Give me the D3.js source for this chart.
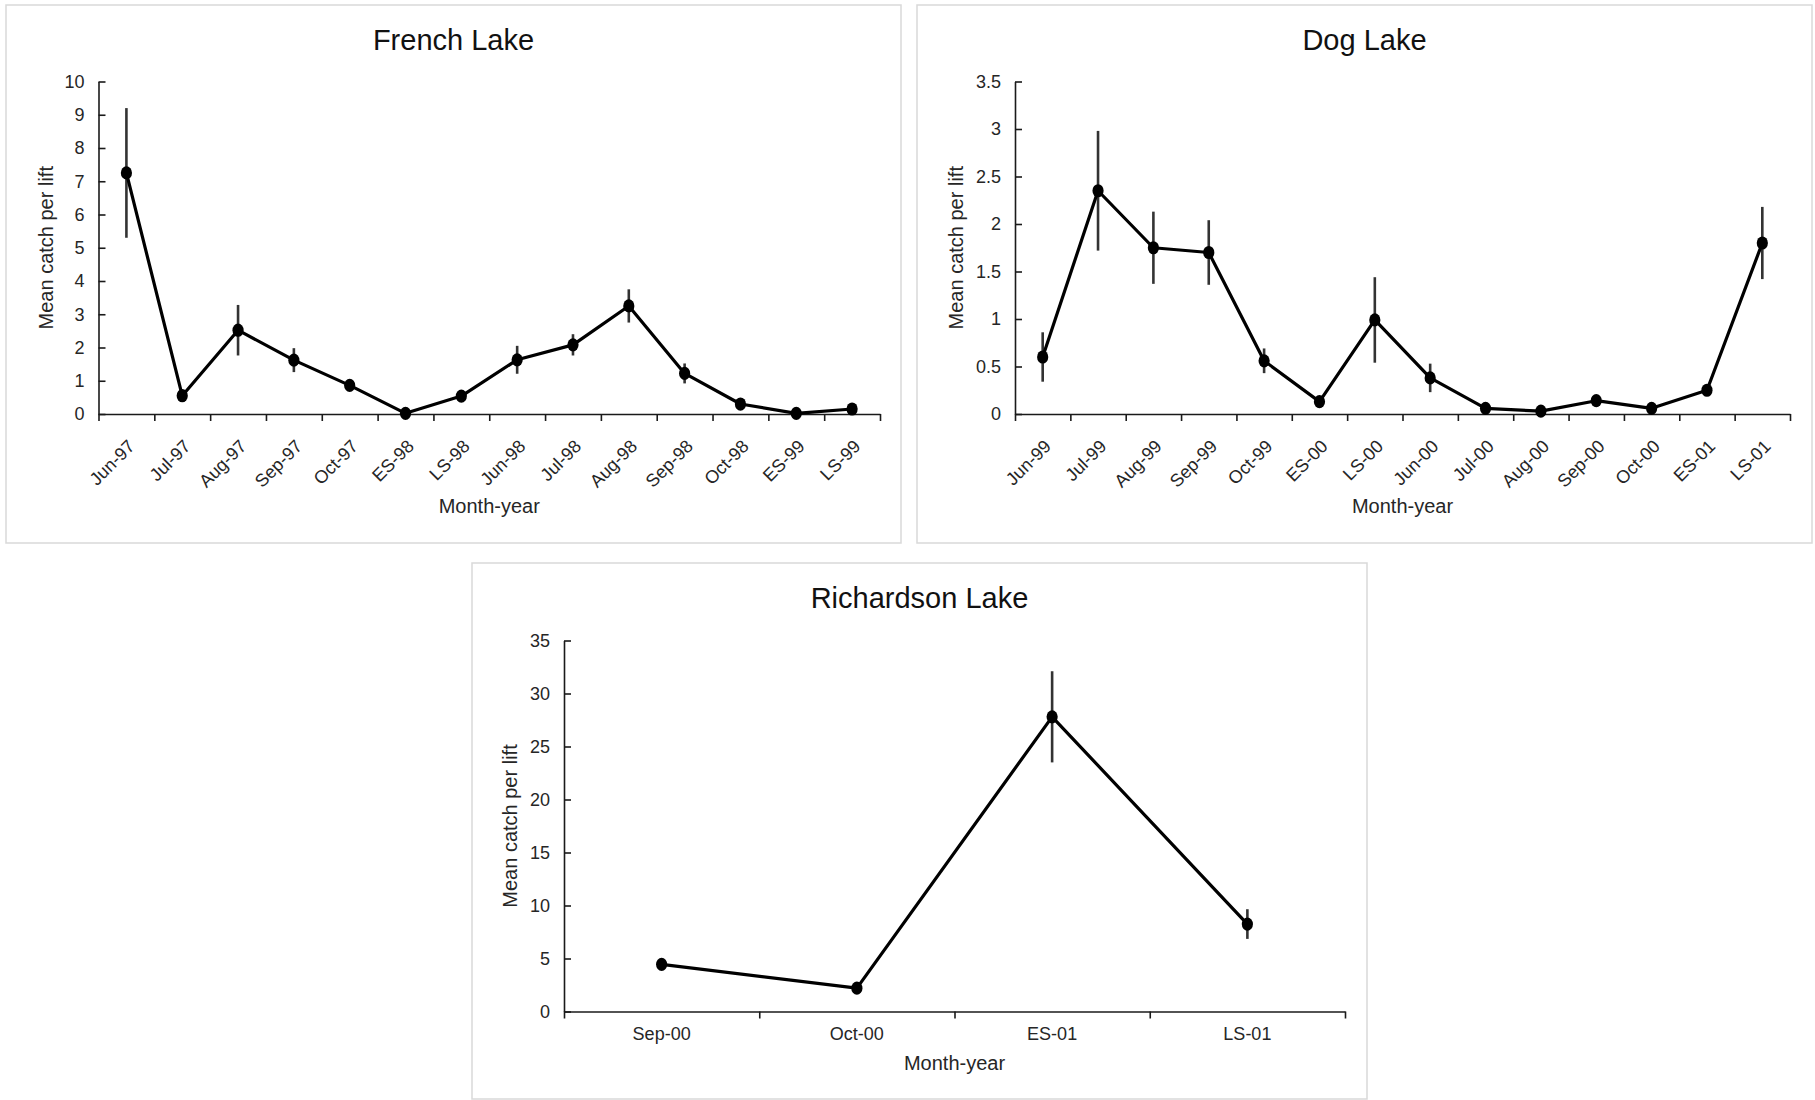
<!DOCTYPE html>
<html>
<head>
<meta charset="utf-8">
<script src="https://d3js.org/d3.v7.min.js"></script>
<style>
  body { margin: 0; background: #fff; }
  svg { display: block; font-family: "Liberation Sans", Arial, sans-serif; }
  .axis path, .axis line { stroke: #1a1a1a; stroke-width: 1.6px; }
  .axis text { fill: #262626; font-size: 18px; }
</style>
</head>
<body>
<svg id="chart" width="1815" height="1100"></svg>
<script>
// French Lake
var frenchCats = ["Jun-97", "Jul-97", "Aug-97", "Sep-97", "Oct-97", "ES-98", "LS-98",
                  "Jun-98", "Jul-98", "Aug-98", "Sep-98", "Oct-98", "ES-99", "LS-99"];
var frenchMean = [7.25, 0.55, 2.52, 1.62, 0.86, 0.02, 0.54, 1.63, 2.08, 3.25, 1.22, 0.30, 0.02, 0.15];
var frenchErr  = [1.95, 0.10, 0.76, 0.36, 0.10, 0.02, 0.10, 0.42, 0.32, 0.50, 0.30, 0.08, 0.02, 0.05];
var frenchTicks = [0, 1, 2, 3, 4, 5, 6, 7, 8, 9, 10];

// Dog Lake
var dogCats = ["Jun-99", "Jul-99", "Aug-99", "Sep-99", "Oct-99", "ES-00", "LS-00",
               "Jun-00", "Jul-00", "Aug-00", "Sep-00", "Oct-00", "ES-01", "LS-01"];
var dogMean = [0.60, 2.35, 1.75, 1.70, 0.56, 0.13, 0.99, 0.38, 0.06, 0.03, 0.14, 0.06, 0.25, 1.80];
var dogErr  = [0.26, 0.63, 0.38, 0.34, 0.13, 0.04, 0.45, 0.15, 0.03, 0.02, 0.04, 0.03, 0.05, 0.38];
var dogTicks = [0, 0.5, 1, 1.5, 2, 2.5, 3, 3.5];

// Richardson Lake
var richCats = ["Sep-00", "Oct-00", "ES-01", "LS-01"];
var richMean = [4.45, 2.2, 27.8, 8.25];
var richErr  = [0.35, 0.2, 4.3, 1.4];
var richTicks = [0, 5, 10, 15, 20, 25, 30, 35];

var svg = d3.select("#chart");

function drawPanel(p) {
    var g = svg.append("g");

    // panel frame
    g.append("rect")
        .attr("x", p.box[0]).attr("y", p.box[1])
        .attr("width", p.box[2] - p.box[0]).attr("height", p.box[3] - p.box[1])
        .attr("fill", "#fff").attr("stroke", "#d9d9d9").attr("stroke-width", 1.5);

    var x = d3.scaleBand().domain(p.cats).range([p.left, p.right]).padding(0);
    var xEdge = d3.scaleLinear().domain([0, p.cats.length]).range([p.left, p.right]);
    var y = d3.scaleLinear().domain([0, d3.max(p.ticks)]).range([p.bottom, p.top]);

    // y axis, ticks pointing inward
    g.append("g")
        .attr("class", "axis")
        .attr("transform", "translate(" + p.left + ",0)")
        .call(d3.axisLeft(y).tickValues(p.ticks).tickFormat(d3.format("~g"))
              .tickSizeInner(-7).tickSizeOuter(0).tickPadding(14));

    // x axis: tick marks at category boundaries
    g.append("g")
        .attr("class", "axis")
        .attr("transform", "translate(0," + p.bottom + ")")
        .call(d3.axisBottom(xEdge).tickValues(d3.range(p.cats.length + 1))
              .tickFormat("").tickSizeInner(7).tickSizeOuter(0));

    // x axis labels at category centres
    var xl = g.append("g")
        .attr("class", "axis")
        .attr("transform", "translate(0," + p.bottom + ")")
        .call(d3.axisBottom(x).tickSize(0).tickPadding(p.rotate ? 0 : 16));
    xl.select(".domain").remove();
    if (p.rotate) {
        xl.selectAll(".tick text")
            .attr("text-anchor", "end")
            .attr("font-size", "20px")
            .attr("y", 0).attr("dy", "0.35em")
            .attr("transform", "translate(5,29) rotate(-45)");
    } else {
        xl.selectAll(".tick text").attr("font-size", "19px");
    }

    // error bars
    g.selectAll(".err")
        .data(p.cats)
        .enter().append("line")
        .attr("class", "err")
        .attr("x1", function(d) { return x(d) + x.bandwidth() / 2; })
        .attr("x2", function(d) { return x(d) + x.bandwidth() / 2; })
        .attr("y1", function(d, i) { return y(p.mean[i] + p.err[i]); })
        .attr("y2", function(d, i) { return y(Math.max(0, p.mean[i] - p.err[i])); })
        .attr("stroke", "#333").attr("stroke-width", 2.6);

    // line
    var line = d3.line()
        .x(function(d) { return x(d.c) + x.bandwidth() / 2; })
        .y(function(d) { return y(d.v); });
    var pts = p.cats.map(function(c, i) { return {c: c, v: p.mean[i]}; });
    g.append("path")
        .datum(pts)
        .attr("d", line)
        .attr("fill", "none").attr("stroke", "#000").attr("stroke-width", 3.2)
        .attr("stroke-linejoin", "round");

    // markers
    g.selectAll(".dot")
        .data(pts)
        .enter().append("ellipse")
        .attr("class", "dot")
        .attr("cx", function(d) { return x(d.c) + x.bandwidth() / 2; })
        .attr("cy", function(d) { return y(d.v); })
        .attr("rx", 5.6).attr("ry", 6.6)
        .attr("fill", "#000");

    // titles
    g.append("text")
        .attr("x", (p.box[0] + p.box[2]) / 2).attr("y", p.titleY)
        .attr("text-anchor", "middle").attr("font-size", "29px").attr("fill", "#111")
        .text(p.title);

    g.append("text")
        .attr("x", (p.left + p.right) / 2).attr("y", p.xLabelY)
        .attr("text-anchor", "middle").attr("font-size", "20px").attr("fill", "#262626")
        .text("Month-year");

    g.append("text")
        .attr("transform", "translate(" + p.yLabelX + "," + (p.top + p.bottom) / 2 + ") rotate(-90)")
        .attr("text-anchor", "middle").attr("dy", "0.35em")
        .attr("font-size", "20px").attr("fill", "#262626")
        .text("Mean catch per lift");
}

drawPanel({
    title: "French Lake", cats: frenchCats, mean: frenchMean, err: frenchErr, ticks: frenchTicks,
    box: [6, 5, 901, 543], left: 98.5, right: 880, top: 81.5, bottom: 414,
    titleY: 50, xLabelY: 513, yLabelX: 46, rotate: true
});

drawPanel({
    title: "Dog Lake", cats: dogCats, mean: dogMean, err: dogErr, ticks: dogTicks,
    box: [917, 5, 1812, 543], left: 1015, right: 1790, top: 81.5, bottom: 414,
    titleY: 50, xLabelY: 513, yLabelX: 956, rotate: true
});

drawPanel({
    title: "Richardson Lake", cats: richCats, mean: richMean, err: richErr, ticks: richTicks,
    box: [472, 563, 1367, 1099], left: 564, right: 1345, top: 640.5, bottom: 1011.5,
    titleY: 608, xLabelY: 1070, yLabelX: 510, rotate: false
});
</script>
</body>
</html>
